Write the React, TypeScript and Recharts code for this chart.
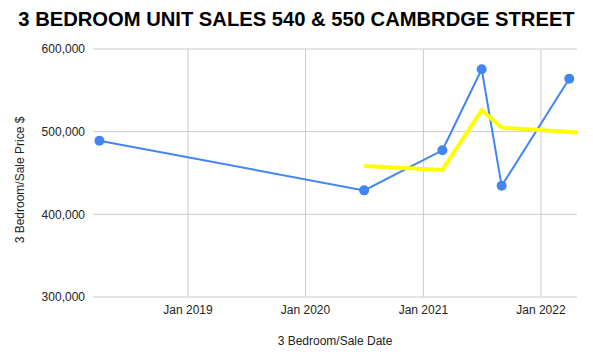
import React from "react"
import { LineChart, Line, CartesianGrid, XAxis, YAxis, Label } from "recharts"

const COLORS = {
  sales: "#4285f4",
  trend: "#ffff00",
  grid: "#cccccc",
  tick: "#222222",
  title: "#000000",
}

// sale dates and prices
const saleDates = ["2018-04-01", "2020-07-01", "2021-03-01", "2021-07-01", "2021-09-01", "2022-03-30"]
const salePrices = [489000, 429000, 477500, 575500, 434500, 564000]

// yellow trend line
const trendDates = ["2020-07-01", "2021-03-01", "2021-07-01", "2021-09-01", "2022-04-23"]
const trendValues = [458500, 453700, 526000, 505000, 499000]

const yTicks = [300000, 400000, 500000, 600000]
const xTickDates = ["2019-01-01", "2020-01-01", "2021-01-01", "2022-01-01"]
const xDomain = ["2018-03-12", "2022-04-23"]

const ts = (d: string) => Date.UTC(+d.slice(0, 4), +d.slice(5, 7) - 1, +d.slice(8, 10))
const MONTHS = ["Jan", "Feb", "Mar", "Apr", "May", "Jun", "Jul", "Aug", "Sep", "Oct", "Nov", "Dec"]

type Row = { t: number; price?: number; trend?: number }

function buildRows(): Row[] {
  const map: Record<number, Row> = {}
  saleDates.forEach((d, i) => {
    const t = ts(d)
    map[t] = { ...(map[t] || { t }), price: salePrices[i] }
  })
  trendDates.forEach((d, i) => {
    const t = ts(d)
    map[t] = { ...(map[t] || { t }), trend: trendValues[i] }
  })
  return Object.values(map).sort((a, b) => a.t - b.t)
}

const FONT = "'Liberation Sans', Arial, sans-serif"

// only draw vertical grid lines at the year ticks (no border at the plot edges)
const verticalAtTicks = (props: any) => {
  const { xAxis, offset } = props
  const [d0, d1] = xDomain.map(ts)
  return xTickDates.map(ts).map((t) => {
    if (xAxis && typeof xAxis.scale === "function") return xAxis.scale(t)
    return offset.left + ((t - d0) / (d1 - d0)) * offset.width
  })
}

// rotated y axis title, centred a little below the plot middle like the original
const YTitle = (props: any) => {
  const vb = props.viewBox || { y: 49, height: 248 }
  const x = 24
  const y = vb.y + vb.height / 2 + 7
  return (
    <text
      x={x}
      y={y}
      transform={`rotate(-90, ${x}, ${y})`}
      textAnchor="middle"
      fill={COLORS.tick}
      fontSize={12}
      fontFamily={FONT}
    >
      3 Bedroom/Sale Price $
    </text>
  )
}

export default function App() {
  const rows = buildRows()
  return (
    <div style={{ position: "relative", width: 593, height: 361, fontFamily: FONT }}>
      <style>{`body{margin:0}`}</style>
      <div
        style={{
          position: "absolute", top: 8, left: 0, width: 593, textAlign: "center",
          fontSize: 20.2, fontWeight: "bold", color: COLORS.title, zIndex: 1,
        }}
      >
        3 BEDROOM UNIT SALES 540 &amp; 550 CAMBRDGE STREET
      </div>
      <LineChart width={593} height={361} data={rows} margin={{ top: 49, right: 16, bottom: 0, left: 0 }}>
        <CartesianGrid stroke={COLORS.grid} verticalCoordinatesGenerator={verticalAtTicks} />
        <XAxis
          dataKey="t"
          type="number"
          scale="time"
          domain={xDomain.map(ts)}
          ticks={xTickDates.map(ts)}
          tickFormatter={(v: number) => {
            const d = new Date(v)
            return `${MONTHS[d.getUTCMonth()]} ${d.getUTCFullYear()}`
          }}
          height={64}
          axisLine={false}
          tickLine={false}
          tick={{ fill: COLORS.tick, fontSize: 12, fontFamily: FONT }}
          label={{ value: "3 Bedroom/Sale Date", position: "insideBottom", offset: 16, fill: COLORS.tick, fontSize: 12, fontFamily: FONT }}
        />
        <YAxis
          type="number"
          domain={[300000, 600000]}
          ticks={yTicks}
          width={93}
          axisLine={false}
          tickLine={false}
          tickFormatter={(v: number) => v.toLocaleString("en-US")}
          tick={{ fill: COLORS.tick, fontSize: 12, fontFamily: FONT }}
        >
          <Label content={YTitle} />
        </YAxis>
        <Line
          dataKey="price"
          stroke={COLORS.sales}
          strokeWidth={2}
          dot={{ r: 5, fill: COLORS.sales, stroke: COLORS.sales, strokeWidth: 0 }}
          activeDot={false}
          connectNulls
          isAnimationActive={false}
        />
        <Line
          dataKey="trend"
          stroke={COLORS.trend}
          strokeWidth={4}
          dot={false}
          activeDot={false}
          connectNulls
          isAnimationActive={false}
        />
      </LineChart>
    </div>
  )
}
